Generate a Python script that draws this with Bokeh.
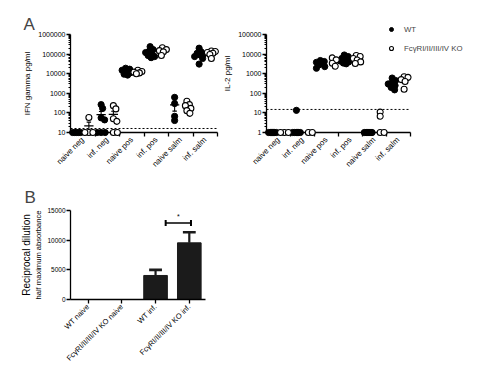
import numpy as np
from math import pi
from bokeh.plotting import figure
from bokeh.models import (FixedTicker, NumeralTickFormatter, Legend, LegendItem,
                          Range1d, ColumnDataSource, LinearAxis, Title)
from bokeh.layouts import column, row
from bokeh.embed import file_html
from bokeh.resources import INLINE

# ---------------- data ----------------
groups = ["naive neg", "inf. neg", "naive pos", "inf. pos", "naive salm", "inf. salm"]
series_names = ["WT", "FcγRI/II/III/IV KO"]

# IFN gamma (pg/ml), one list per group
ifn_wt = [
    [10, 10, 10, 10, 10],
    [265, 170, 56, 44, 10, 10, 10],
    [19000, 17000, 15000, 13000, 11000, 9500, 8500],
    [240000, 170000, 140000, 120000, 100000, 85000, 75000, 66000],
    [620, 300, 67, 41],
    [200000, 130000, 110000, 100000, 90000, 75000, 60000, 31000],
]
ifn_ko = [
    [58, 10, 10, 10],
    [235, 160, 50, 37, 10, 10],
    [15000, 13000, 12000, 11000, 10000],
    [210000, 170000, 150000, 130000, 85000],
    [390, 265, 235, 170, 130, 95],
    [145000, 135000, 120000, 110000, 95000, 60000],
]
ifn_yticks = [10, 100, 1000, 10000, 100000, 1000000]
ifn_cutoff = 16

# IL-2 (pg/ml)
il2_wt = [
    [1, 1, 1, 1, 1, 1, 1],
    [13.5, 1, 1, 1, 1, 1, 1],
    [4700, 4200, 3800, 3300, 2800, 2300, 1900],
    [9000, 7500, 6000, 5000, 4500, 4000, 3500, 3200],
    [1, 1, 1, 1, 1, 1, 1, 1],
    [600, 450, 350, 300, 250, 200, 150],
]
il2_ko = [
    [1, 1, 1],
    [1, 1],
    [6400, 5100, 3400, 2400],
    [8500, 7500, 6000, 5000, 4000, 3300],
    [11, 6.7, 1, 1],
    [700, 650, 500, 400, 160],
]
il2_yticks = [1, 10, 100, 1000, 10000, 100000]
il2_cutoff = 15

# Panel B
b_categories = ["WT naive", "FcγRI/II/III/IV KO naive", "WT inf.", "FcγRI/II/III/IV KO inf."]
b_means = [0, 0, 4050, 9550]
b_sem = [0, 0, 950, 1790]
b_yticks = [0, 5000, 10000, 15000]
b_sig_pair = [2, 3]
b_sig_y = 12900
b_sig_text = "*"

FONT = "Liberation Sans"


def style_axis(ax, tick_size="7px", label_size="8px"):
    ax.axis_line_width = 1.3
    ax.axis_line_color = "black"
    ax.major_tick_line_width = 1.3
    ax.minor_tick_line_width = 1
    ax.major_tick_line_color = "black"
    ax.minor_tick_line_color = "black"
    ax.major_tick_in = 0
    ax.major_tick_out = 4
    ax.minor_tick_in = 0
    ax.minor_tick_out = 2
    ax.major_label_text_font = FONT
    ax.major_label_text_font_size = tick_size
    ax.major_label_text_color = "black"
    ax.axis_label_text_font = FONT
    ax.axis_label_text_font_style = "normal"
    ax.axis_label_text_font_size = label_size
    ax.axis_label_text_color = "black"
    ax.major_label_standoff = 1
    ax.axis_label_standoff = 3


def swarm(vals, px_per_decade, px_per_unit, diam=4.0, maxoff=4.5):
    placed = []
    out = []
    cands = [0.0]
    k = 1
    while k * 0.5 <= maxoff:
        cands += [k * 0.5, -k * 0.5]
        k += 1
    for v in vals:
        y = np.log10(v) * px_per_decade
        best_c, best_d = 0.0, -1.0
        for c in cands:
            dmin = min([np.hypot(c - px, y - py) for px, py in placed], default=1e9)
            if dmin >= diam:
                best_c = c
                break
            if dmin > best_d:
                best_d, best_c = dmin, c
        placed.append((best_c, y))
        out.append(best_c / px_per_unit)
    return out


def scatter_panel(wt, ko, yticks, cutoff, ylabel, width, height, bl, br, bt, bb,
                  axis_w=147, axis_h=98, title=None, show_mean=True):
    px_unit = axis_w / 12.0
    px_dec = axis_h / (len(yticks) - 1)
    frame_w = width - bl - br
    frame_h = height - bt - bb
    x_end = -0.5 + frame_w / px_unit
    y_end = yticks[-1] * 10 ** ((frame_h - axis_h) / px_dec)
    p = figure(width=width, height=height, y_axis_type="log", title=None,
               x_range=Range1d(-0.5, x_end), y_range=Range1d(yticks[0], y_end),
               output_backend="svg", toolbar_location=None,
               min_border_left=bl, min_border_right=br, min_border_top=bt, min_border_bottom=bb)
    p.frame_align = False
    p.outline_line_color = None
    p.xgrid.visible = False
    p.ygrid.visible = False
    p.background_fill_color = None

    renderers = []
    for s, data in enumerate([wt, ko]):
        xs, ys = [], []
        for gi, vals in enumerate(data):
            col = 2 * gi + s
            offs = swarm(vals, px_dec, px_unit)
            xs += [col + o for o in offs]
            ys += list(vals)
        src = ColumnDataSource(dict(x=xs, y=ys))
        if s == 0:
            r = p.scatter("x", "y", source=src, marker="circle", size=6.2,
                          fill_color="black", line_color="black", line_width=1)
        else:
            r = p.scatter("x", "y", source=src, marker="circle", size=6.0,
                          fill_color="white", line_color="black", line_width=1.1)
        r.level = "overlay"
        renderers.append(r)

    if show_mean:
        mx0, mx1, my = [], [], []
        wx, wy0, wy1 = [], [], []
        cx0, cx1, cy = [], [], []
        for s, data in enumerate([wt, ko]):
            for gi, vals in enumerate(data):
                col = 2 * gi + s
                m = float(np.mean(vals))
                se = float(np.std(vals, ddof=1) / np.sqrt(len(vals)))
                mx0.append(col - 0.38); mx1.append(col + 0.38); my.append(m)
                if se > 0:
                    lo = max(m - se, yticks[0])
                    hi = m + se
                    wx.append(col); wy0.append(lo); wy1.append(hi)
                    cx0.append(col - 0.18); cx1.append(col + 0.18); cy.append(hi)
                    if m - se > yticks[0]:
                        cx0.append(col - 0.18); cx1.append(col + 0.18); cy.append(m - se)
        p.segment(x0=mx0, x1=mx1, y0=my, y1=my, line_color="black", line_width=1.3)
        p.segment(x0=wx, x1=wx, y0=wy0, y1=wy1, line_color="black", line_width=1.1)
        p.segment(x0=cx0, x1=cx1, y0=cy, y1=cy, line_color="black", line_width=1.1)

    # detection limit (dashed), across the axis length
    p.segment(x0=[-0.5], x1=[11.5], y0=[cutoff], y1=[cutoff], line_color="black",
              line_width=1, line_dash="2 2")

    # axes
    style_axis(p.xaxis[0])
    style_axis(p.yaxis[0])
    minor = [m * 10 ** d for d in range(int(np.log10(yticks[0])), int(np.log10(yticks[-1])))
             for m in range(2, 10)]
    p.yaxis[0].ticker = FixedTicker(ticks=yticks, minor_ticks=minor)
    p.yaxis[0].formatter = NumeralTickFormatter(format="0")
    p.yaxis[0].axis_label = ylabel
    p.yaxis[0].bounds = (yticks[0], yticks[-1])

    centers = [2 * i + 0.5 for i in range(len(groups))]
    bounds = [2 * i + 1.5 for i in range(len(groups))]
    p.xaxis[0].ticker = FixedTicker(ticks=centers, minor_ticks=bounds)
    p.xaxis[0].major_label_overrides = {c: g for c, g in zip(centers, groups)}
    p.xaxis[0].bounds = (-0.5, 11.5)
    p.xaxis[0].major_tick_out = 0
    p.xaxis[0].minor_tick_out = 4
    p.xaxis[0].minor_tick_line_width = 1.3
    p.xaxis[0].major_label_orientation = pi / 4
    p.xaxis[0].major_label_text_font_size = "8px"
    p.xaxis[0].major_label_standoff = 2

    if title:
        t = Title(text=title, align="left", offset=-47, text_font=FONT,
                  text_font_size="17px", text_font_style="normal", standoff=2)
        p.add_layout(t, "above")
    return p, renderers


p1, _ = scatter_panel(ifn_wt, ifn_ko, ifn_yticks, ifn_cutoff, "IFN gamma pg/ml",
                      220, 180, 70, 3, 34, 48, title="A")
# right panel: frame extended to the right/top so that the legend fits inside it
p2, rr = scatter_panel(il2_wt, il2_ko, il2_yticks, il2_cutoff, "IL-2 pg/ml",
                       257, 180, 41, 0, 14, 48, show_mean=False)

legend = Legend(items=[LegendItem(label=series_names[0], renderers=[rr[0]]),
                       LegendItem(label=series_names[1], renderers=[rr[1]])],
                location=(120, 79), orientation="vertical",
                border_line_color=None, background_fill_alpha=0,
                label_text_font=FONT, label_text_font_size="7.8px",
                glyph_width=10, glyph_height=10, label_height=10,
                spacing=9, padding=0, margin=0, label_standoff=8)
p2.add_layout(legend)

# ---------------- Panel B ----------------
p3 = figure(width=240, height=189, x_range=Range1d(-0.52, 3.48), y_range=Range1d(0, 15000),
            output_backend="svg", toolbar_location=None, title=None,
            min_border_left=70, min_border_right=35, min_border_top=30, min_border_bottom=70)
p3.frame_align = False
p3.outline_line_color = None
p3.xgrid.visible = False
p3.ygrid.visible = False
xs = list(range(len(b_categories)))
p3.vbar(x=xs, top=b_means, width=0.7, fill_color="#1b1b1b", line_color="#1b1b1b")
ex, ey0, ey1, cx0, cx1 = [], [], [], [], []
for x, m, s in zip(xs, b_means, b_sem):
    if s > 0:
        ex.append(x); ey0.append(m); ey1.append(m + s)
        cx0.append(x - 0.19); cx1.append(x + 0.19)
p3.segment(x0=ex, x1=ex, y0=ey0, y1=ey1, line_color="#1b1b1b", line_width=2.2)
p3.segment(x0=cx0, x1=cx1, y0=ey1, y1=ey1, line_color="#1b1b1b", line_width=2.6)

# significance bracket
bx0 = b_sig_pair[0] + 0.3
bx1 = b_sig_pair[1] + 0.05
p3.segment(x0=[bx0], x1=[bx1], y0=[b_sig_y], y1=[b_sig_y], line_color="black", line_width=1.5)
p3.segment(x0=[bx0, bx1], x1=[bx0, bx1], y0=[b_sig_y - 500] * 2, y1=[b_sig_y + 500] * 2,
           line_color="black", line_width=2)
p3.text(x=[(bx0 + bx1) / 2], y=[b_sig_y + 500], text=[b_sig_text], text_align="center",
        text_baseline="bottom", text_font_size="7px", text_color="black")

style_axis(p3.xaxis[0], tick_size="7.5px")
style_axis(p3.yaxis[0], tick_size="6.5px", label_size="7.6px")
p3.yaxis[0].ticker = FixedTicker(ticks=b_yticks)
p3.yaxis[0].formatter = NumeralTickFormatter(format="0")
p3.yaxis[0].minor_tick_out = 0
p3.yaxis[0].axis_label = "half maximum absorbance"
p3.yaxis[0].axis_label_standoff = 1
p3.xaxis[0].ticker = FixedTicker(ticks=xs)
p3.xaxis[0].major_label_overrides = {x: c for x, c in zip(xs, b_categories)}
p3.xaxis[0].major_label_orientation = pi / 4
p3.xaxis[0].minor_tick_out = 0
p3.xaxis[0].major_label_standoff = 2

outer = LinearAxis(axis_label="Reciprocal dilution", axis_line_color=None,
                   major_tick_line_color=None, minor_tick_line_color=None,
                   major_tick_out=0, minor_tick_out=0, major_label_standoff=0,
                   major_label_text_font_size="0px", ticker=FixedTicker(ticks=[]))
outer.axis_label_text_font = FONT
outer.axis_label_text_font_style = "normal"
outer.axis_label_text_font_size = "10px"
outer.axis_label_text_color = "black"
outer.axis_label_standoff = 0
p3.add_layout(outer, "left")

p3.add_layout(Title(text="B", align="left", offset=-46, text_font=FONT,
                    text_font_size="17px", text_font_style="normal", standoff=7), "above")

layout = column(row(p1, p2), p3)
open("out.html", "w").write(file_html(layout, INLINE))
